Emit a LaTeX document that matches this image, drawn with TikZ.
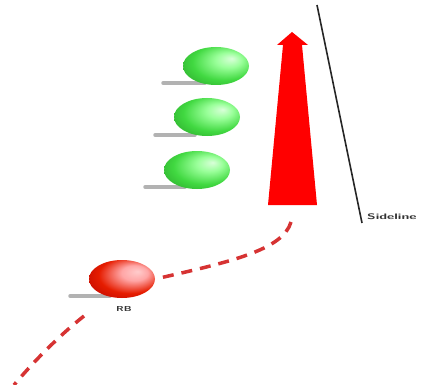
\documentclass[tikz,border=0pt]{standalone}
\usetikzlibrary{shapes.geometric}
\pgfdeclareradialshading{greenball}{\pgfpoint{12bp}{10bp}}{color(0bp)=(white!85!green); color(10bp)=(green!40!white); color(24bp)=(green!70!white!85!black); color(40bp)=(green!55!black!85!white); color(50bp)=(green!45!black)}
\pgfdeclareradialshading{redball}{\pgfpoint{12bp}{10bp}}{color(0bp)=(white!80!red); color(10bp)=(red!35!white); color(24bp)=(red!75!orange!90!black); color(40bp)=(red!70!black); color(50bp)=(red!45!black)}
\begin{document}
\begin{tikzpicture}[x=1pt,y=-1pt,
  gball/.style={ellipse,minimum width=66pt,minimum height=38pt,inner sep=0pt,shading=greenball},
  rball/.style={ellipse,minimum width=66pt,minimum height=38pt,inner sep=0pt,shading=redball},
  shadowline/.style={line width=3.5pt,gray!60,line cap=round},
  route/.style={line width=3.5pt,red!80!black!80!white,dash pattern=on 11pt off 8pt},
  lbl/.style={font=\sffamily\bfseries\fontsize{8}{8}\selectfont,inner sep=0pt,text=black!80}]
\useasboundingbox (0,0) rectangle (436,385);
% shadows
\draw[shadowline] (163,83) -- (205,83);
\draw[shadowline] (155,135) -- (195,135);
\draw[shadowline] (145,187) -- (185,187);
\draw[shadowline] (70,296) -- (110,296);
% green balls
\node[gball] (g1) at (216,66) {};
\node[gball] (g2) at (207,117) {};
\node[gball] (g3) at (197,170) {};
% red ball
\node[rball] (rb) at (122,279) {};
\node[lbl] (rbl) at (124,309) {\scalebox{1.35}[0.9]{RB}};
% sideline
\coordinate (s1) at (317,5);
\coordinate (s2) at (362,223);
\draw[line width=1.6pt,black!85] (s1) -- (s2);
\node[lbl,anchor=west] (sl) at (367,217) {\scalebox{1.75}[1]{Sideline}};
% arrow
\fill[red] (268,205) -- (283,45) -- (277,45) -- (292,32) -- (308,45) -- (302,45) -- (317,205) -- cycle;
% routes
\coordinate (r1) at (291,222);
\coordinate (r2) at (84,316);
\coordinate (r3) at (14,385);
\draw[route] (r1) .. controls (283,250) and (230,262) .. (rb.east);
\draw[route] (r2) .. controls (60,335) and (35,360) .. (r3);
\end{tikzpicture}
\end{document}
